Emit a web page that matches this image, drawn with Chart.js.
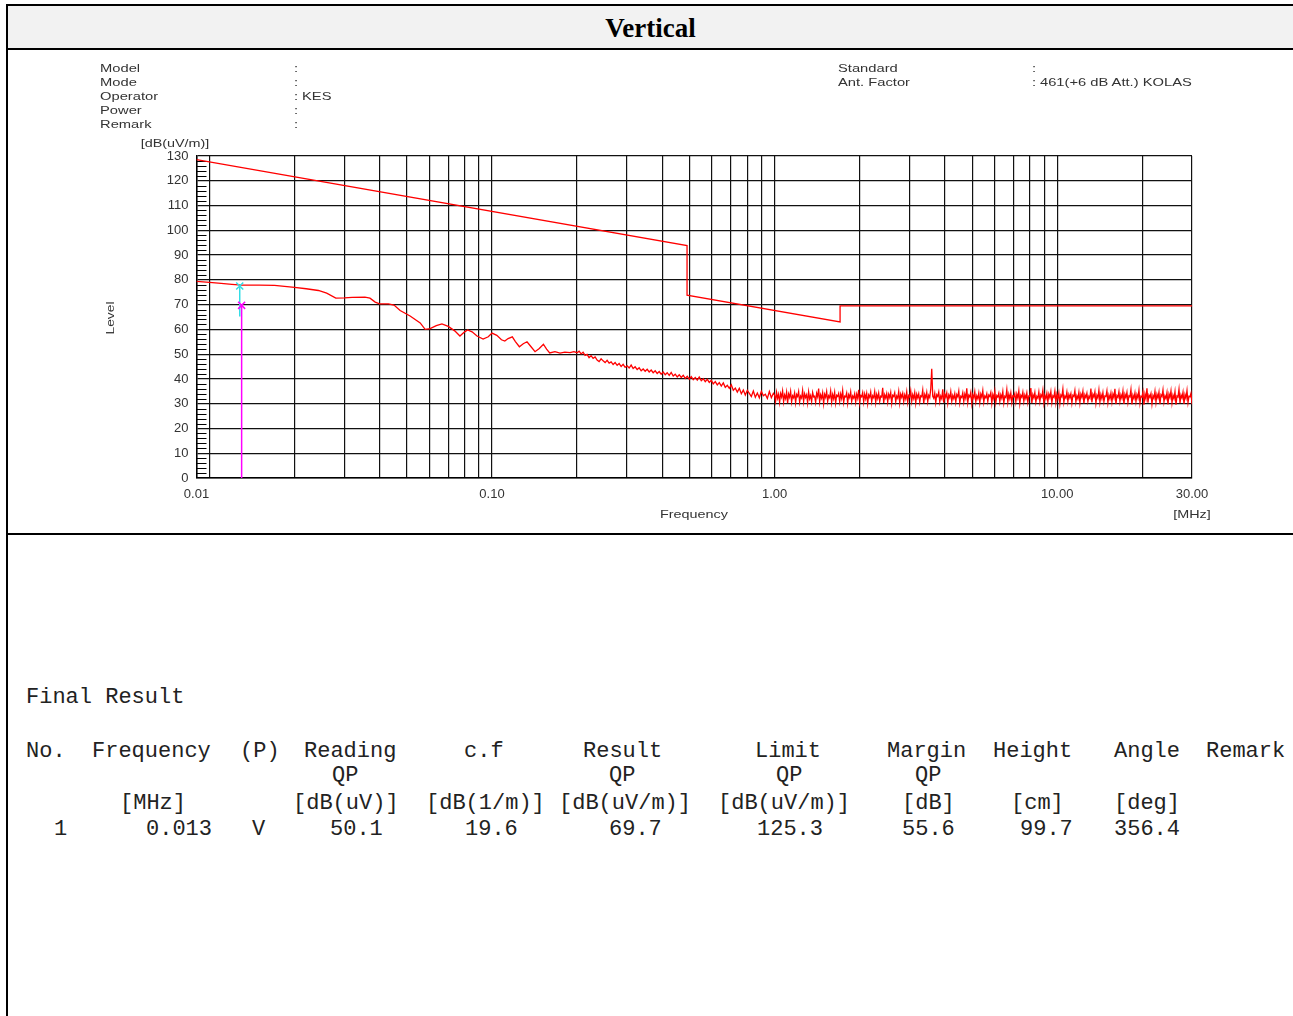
<!DOCTYPE html>
<html>
<head>
<meta charset="utf-8">
<script src="https://cdn.jsdelivr.net/npm/chart.js@4.4.1/dist/chart.umd.min.js"></script>
<style>
  body { margin: 0; background: #fff; width: 1293px; height: 1016px; position: relative; overflow: hidden; }
  .line { position: absolute; background: #000; }
  .head { position: absolute; left: 8px; top: 6px; width: 1285px; height: 42px; background: #f2f2f2;
          font: bold 27px "Liberation Serif", serif; text-align: center; line-height: 44px; color: #000; }
  .t { position: absolute; font: 11.5px "Liberation Sans", Arial, sans-serif; color: #333; line-height: 14px;
       white-space: nowrap; transform: scaleX(1.28); transform-origin: left center; z-index: 2; }
  .c { position: absolute; width: 200px; text-align: center; font: 11.5px "Liberation Sans", Arial, sans-serif;
       color: #333; line-height: 14px; white-space: nowrap; transform: scaleX(1.25); z-index: 2; }
  .m { position: absolute; font: 22px "Liberation Mono", monospace; color: #222; line-height: 24px; white-space: pre; }
  #c { position: absolute; left: 8px; top: 50px; }
</style>
</head>
<body>
<div class="head">Vertical</div>
<div class="line" style="left:7px;top:4px;width:1286px;height:2px"></div>
<div class="line" style="left:6px;top:4px;width:2px;height:1012px"></div>
<div class="line" style="left:7px;top:48px;width:1286px;height:2px"></div>
<div class="line" style="left:7px;top:533px;width:1286px;height:2px"></div>

<canvas id="c" width="1285" height="483"></canvas>
<div id="labels"></div>
<div id="result"></div>

<script>
// measured trace, smooth part (MHz / dBuV/m)
const sweepLowFreq = [0.009, 0.01, 0.011, 0.012, 0.013, 0.015, 0.017, 0.02, 0.022, 0.0243, 0.026, 0.028, 0.03, 0.032,
  0.0355, 0.037, 0.0386, 0.04, 0.043, 0.045, 0.0473, 0.0513, 0.0557, 0.058, 0.0604, 0.0635, 0.0665, 0.07, 0.0738,
  0.077, 0.08, 0.082, 0.085, 0.0885, 0.093, 0.097, 0.1, 0.104, 0.108, 0.111, 0.114, 0.118, 0.121, 0.125, 0.129,
  0.133, 0.137, 0.142, 0.147, 0.152, 0.156, 0.16, 0.167, 0.174, 0.181, 0.189, 0.195];
const sweepLowLevel = [79.4, 79.0, 78.6, 78.2, 77.9, 77.9, 77.8, 77.0, 76.4, 75.7, 74.6, 72.6, 72.7, 72.9,
  73.0, 72.6, 71.0, 70.3, 70.3, 69.8, 67.6, 65.4, 62.6, 60.0, 60.3, 61.5, 62.2, 61.2, 59.4,
  57.3, 59.0, 59.8, 59.0, 57.3, 56.1, 57.0, 58.5, 57.6, 55.8, 55.3, 56.3, 57.0, 55.1, 53.0, 54.2,
  55.0, 53.2, 51.0, 52.3, 54.0, 52.0, 50.5, 51.0, 50.4, 50.8, 50.6, 51.0];

// 0.2 - 1 MHz sweep
const sweepMidStart = 0.2;
const sweepMidStop = 0.99;
const sweepMidLevel = [50.6, 51.2, 50.1, 50.8, 49.5, 49.9, 48.6, 49.4, 48.3, 48.9, 47.6, 47.0, 48.1, 47.3, 46.6,
  47.5, 46.4, 46.9, 45.8, 46.6, 45.5, 46.2, 45.0, 45.9, 44.7, 45.3, 44.4, 45.6, 44.2, 44.9, 43.8, 44.5, 43.3,
  44.0, 43.1, 43.9, 42.8, 43.6, 42.5, 43.3, 42.2, 43.0, 41.9, 42.8, 41.7, 42.5, 41.4, 42.6, 41.2, 41.9, 40.8,
  41.7, 40.6, 41.5, 40.2, 41.1, 39.9, 40.9, 39.7, 40.6, 39.5, 40.8, 39.3, 40.1, 38.9, 39.8, 38.6, 39.4, 38.0,
  38.9, 37.6, 38.5, 37.1, 38.4, 36.6, 37.4, 36.2, 37.6, 35.4, 36.3, 34.7, 36.2, 34.0, 35.5, 33.5, 35.4, 34.2,
  32.9, 35.1, 32.6, 34.3, 32.4, 35.0, 33.2, 33.8, 32.1, 34.9, 32.4, 34.2];

// 1 - 30 MHz sweep
const sweepHighStart = 1.0;
const sweepHighStop = 30;
const sweepHighLevel = [
  33.4, 30.9, 34.6, 32.2, 33.8, 30.5, 34.1, 32.7, 35.2, 30.8, 33.5, 32.1, 34.7, 30.2, 33.9, 32.6, 35.0, 30.7, 33.2, 32.4,
  34.3, 30.4, 33.7, 32.9, 34.9, 30.6, 33.1, 32.3, 35.4, 30.9, 34.0, 32.5, 33.6, 30.3, 34.8, 32.0, 33.3, 30.8, 34.5, 32.7,
  33.0, 30.5, 34.2, 32.8, 36.1, 30.7, 33.6, 32.2, 34.4, 30.1, 33.8, 32.6, 34.9, 30.9, 33.2, 32.4, 35.1, 30.6, 33.7, 32.0,
  34.6, 30.3, 33.4, 32.9, 34.1, 30.8, 33.9, 32.1, 35.3, 30.5, 33.0, 32.7, 34.3, 30.2, 33.6, 32.5, 34.8, 30.9, 33.1, 32.3,
  34.0, 30.6, 33.8, 32.2, 35.6, 30.4, 33.3, 32.8, 34.5, 30.7, 33.9, 32.0, 34.2, 30.1, 33.5, 32.6, 34.7, 30.8, 33.2, 32.4,
  34.9, 30.5, 33.7, 32.1, 34.3, 30.9, 33.0, 32.7, 36.4, 30.3, 33.6, 32.3, 34.1, 30.6, 33.8, 32.5, 34.6, 30.2, 33.4, 32.9,
  34.4, 30.7, 33.1, 32.2, 35.0, 30.4, 33.9, 32.6, 34.2, 30.8, 33.5, 32.0, 34.8, 30.5, 33.3, 32.7, 35.2, 30.9, 33.6, 32.1,
  34.5, 30.3, 33.8, 32.4, 34.0, 30.6, 33.2, 32.8, 35.5, 30.1, 33.7, 32.3, 34.6, 30.8, 33.4, 32.5, 36.0, 44.1, 33.0, 32.2,
  34.2, 30.5, 33.6, 32.9, 34.7, 30.7, 33.1, 32.0, 35.8, 30.4, 33.9, 32.6, 34.3, 30.2, 33.5, 32.4, 34.9, 30.9, 33.3, 32.1,
  34.1, 30.6, 33.7, 32.8, 35.1, 30.3, 33.0, 32.5, 34.4, 30.8, 33.8, 32.2, 36.2, 30.5, 33.4, 32.7, 34.6, 30.1, 33.6, 32.3,
  34.8, 30.7, 33.2, 32.0, 34.3, 30.4, 33.9, 32.6, 35.3, 30.6, 33.1, 32.4, 34.0, 30.9, 33.5, 32.9, 34.5, 30.2, 33.7, 32.1,
  35.0, 30.5, 33.3, 32.7, 34.2, 30.8, 33.6, 32.2, 34.9, 30.3, 33.0, 32.5, 35.7, 30.6, 33.8, 32.0, 34.4, 30.4, 33.2, 32.8,
  34.1, 30.7, 33.9, 32.3, 35.2, 30.1, 33.4, 32.6, 34.7, 30.9, 33.5, 32.1, 34.3, 30.5, 33.1, 32.9, 36.3, 30.2, 33.7, 32.4,
  34.6, 30.6, 33.0, 32.2, 34.8, 30.8, 33.6, 32.7, 35.4, 30.3, 33.3, 32.0, 34.2, 30.7, 33.9, 32.5, 34.9, 30.4, 33.2, 32.6,
  35.1, 30.5, 33.8, 32.1, 34.4, 30.0, 33.5, 32.8, 35.9, 30.6, 33.1, 32.3, 34.7, 30.8, 33.7, 32.4, 34.0, 30.3, 33.4, 32.9,
  35.3, 30.7, 33.2, 32.0, 34.6, 30.4, 33.9, 32.6, 35.0, 30.1, 33.6, 32.5, 34.2, 30.9, 33.0, 32.2, 36.1, 30.5, 33.8, 32.7,
  34.8, 30.2, 33.4, 32.3, 35.5, 30.6, 33.7, 32.1, 34.5, 30.8, 33.1, 32.9, 35.2, 30.4, 33.5, 32.0, 34.3, 30.7, 33.9, 32.4,
  36.0, 29.8, 33.3, 32.6, 34.9, 30.9, 33.6, 32.2, 35.1, 29.9, 33.8, 32.5, 34.6, 30.5, 33.2, 32.8, 35.7, 29.7, 33.4, 32.1,
  34.4, 30.8, 33.7, 32.3, 35.4, 30.2, 33.0, 32.7, 34.8, 29.6, 33.9, 32.0, 36.2, 30.4, 33.5, 32.6, 34.1, 29.9, 33.3, 32.2,
  35.0, 30.5, 33.8, 32.4, 34.7, 29.8, 33.6, 32.9, 35.6, 30.7, 33.2, 32.1, 34.5, 29.7, 33.9, 32.5, 35.2, 30.3, 33.4, 32.0,
  34.9, 29.6, 33.1, 32.7, 35.8, 30.2, 33.5, 32.3, 34.6, 29.9, 33.7, 32.2, 35.3, 30.4, 33.0, 32.8, 34.2, 29.8];

// limit line
const limitFreq = [0.009, 0.49, 0.49, 1.705, 1.705, 30];
const limitLevel = [128.5, 93.8, 73.8, 63.0, 69.5, 69.5];

// markers
const peakFreq = 0.0128;
const peakLevel = [77.5, 65.2];
const qpFreq = 0.013;
const qpLevel = [69.7, 0];

// axes
const xGridValues = [0.009, 0.01, 0.02, 0.03, 0.04, 0.05, 0.06, 0.07, 0.08, 0.09,
  0.1, 0.2, 0.3, 0.4, 0.5, 0.6, 0.7, 0.8, 0.9, 1, 2, 3, 4, 5, 6, 7, 8, 9, 10, 20, 30];
const xTickValues = [0.009, 0.1, 1, 10, 30];
const xTickLabels = ['0.01', '0.10', '1.00', '10.00', '30.00'];

// header texts
const infoLeft = ['Model', 'Mode', 'Operator', 'Power', 'Remark'];
const infoLeftValue = ['', '', 'KES', '', ''];
const infoRight = ['Standard', 'Ant. Factor'];
const infoRightValue = ['', '461(+6 dB Att.) KOLAS'];

// final result table
const resultHead = [['No.', 26], ['Frequency', 92], ['(P)', 240], ['Reading', 304], ['c.f', 464], ['Result', 583],
  ['Limit', 755], ['Margin', 887], ['Height', 993], ['Angle', 1114], ['Remark', 1206]];
const resultSub = [['QP', 332], ['QP', 609], ['QP', 776], ['QP', 915]];
const resultUnits = [['[MHz]', 120], ['[dB(uV)]', 293], ['[dB(1/m)]', 426], ['[dB(uV/m)]', 559], ['[dB(uV/m)]', 718],
  ['[dB]', 902], ['[cm]', 1011], ['[deg]', 1114]];
const resultRow = [['1', 54], ['0.013', 146], ['V', 252], ['50.1', 330], ['19.6', 465], ['69.7', 609],
  ['125.3', 757], ['55.6', 902], ['99.7', 1020], ['356.4', 1114]];

function sweep(start, stop, levels) {
  return levels.map((v, i) => ({ x: start * Math.pow(stop / start, i / (levels.length - 1)), y: v }));
}

const traceData = sweepLowFreq.map((f, i) => ({ x: f, y: sweepLowLevel[i] }))
  .concat(sweep(sweepMidStart, sweepMidStop, sweepMidLevel))
  .concat(sweep(sweepHighStart, sweepHighStop, sweepHighLevel));
const limitData = limitFreq.map((f, i) => ({ x: f, y: limitLevel[i] }));

// little 2 dB ticks inside the left edge
const minorTicks = {
  id: 'minorTicks',
  beforeDatasetsDraw(chart) {
    const { ctx, chartArea, scales } = chart;
    ctx.save();
    ctx.strokeStyle = '#000';
    ctx.lineWidth = 1;
    for (let v = 0; v <= 130; v += 2) {
      if (v % 10 === 0) continue;
      const y = Math.round(scales.y.getPixelForValue(v)) + 0.5;
      ctx.beginPath();
      ctx.moveTo(chartArea.left, y);
      ctx.lineTo(chartArea.left + 10, y);
      ctx.stroke();
    }
    ctx.restore();
  }
};

const tickFont = { family: 'Liberation Sans', size: 13 };

new Chart(document.getElementById('c'), {
  type: 'scatter',
  data: {
    datasets: [
      { data: qpLevel.map(v => ({ x: qpFreq, y: v })), showLine: true, borderColor: '#ff00ff', backgroundColor: '#ff00ff',
        borderWidth: 1.5, pointStyle: 'crossRot', pointRadius: [5, 0], pointBorderWidth: 1.5 },
      { data: peakLevel.map(v => ({ x: peakFreq, y: v })), showLine: true, borderColor: '#33dde6', backgroundColor: '#33dde6',
        borderWidth: 1.5, pointStyle: 'crossRot', pointRadius: [5, 0], pointBorderWidth: 1.5 },
      { data: limitData, showLine: true, borderColor: '#ff0000', borderWidth: 1.3, pointRadius: 0 },
      { data: traceData, showLine: true, borderColor: '#ff0000', borderWidth: 1.3, pointRadius: 0 }
    ]
  },
  options: {
    responsive: false,
    animation: false,
    layout: { padding: { left: 148.5, right: 101, top: 106, bottom: 0 } },
    plugins: { legend: { display: false }, tooltip: { enabled: false } },
    scales: {
      x: {
        type: 'logarithmic', min: 0.009, max: 30,
        afterBuildTicks: s => { s.ticks = xGridValues.map(v => ({ value: v })); },
        afterFit: s => { s.height = 55; },
        ticks: {
          autoSkip: false, maxRotation: 0, padding: 9, color: '#333', font: tickFont,
          callback: v => { const i = xTickValues.indexOf(v); return i >= 0 ? xTickLabels[i] : ''; }
        },
        grid: { color: '#111', lineWidth: 1.2, drawTicks: false },
        border: { color: '#000', width: 1.5 }
      },
      y: {
        min: 0, max: 130,
        afterFit: s => { s.width = 40; },
        ticks: { stepSize: 10, padding: 8, color: '#333', font: tickFont },
        grid: { color: '#111', lineWidth: 1.2, drawTicks: false },
        border: { color: '#000', width: 1.5 }
      }
    }
  },
  plugins: [minorTicks]
});

// texts around the chart
const labels = document.getElementById('labels');
function put(cls, text, left, cy, extra) {
  const d = document.createElement('div');
  d.className = cls;
  d.textContent = text;
  d.style.left = left + 'px';
  d.style.top = (cy - 7) + 'px';
  if (extra) d.style.cssText += extra;
  labels.appendChild(d);
}
infoLeft.forEach((t, i) => {
  put('t', t, 100, 68 + i * 14);
  put('t', ':', 294, 68 + i * 14);
  if (infoLeftValue[i]) put('t', infoLeftValue[i], 302, 68 + i * 14);
});
infoRight.forEach((t, i) => {
  put('t', t, 838, 68 + i * 14);
  put('t', ':', 1032, 68 + i * 14);
  if (infoRightValue[i]) put('t', infoRightValue[i], 1040, 68 + i * 14);
});
put('c', '[dB(uV/m)]', 75, 143);
put('c', 'Level', 10, 318, 'transform: rotate(-90deg) scaleX(1.2);');
put('c', 'Frequency', 594, 514);
put('c', '[MHz]', 1092, 514);

const result = document.getElementById('result');
function cell(text, left, cy) {
  const d = document.createElement('div');
  d.className = 'm';
  d.textContent = text;
  d.style.left = left + 'px';
  d.style.top = (cy - 12) + 'px';
  result.appendChild(d);
}
cell('Final Result', 26, 698);
resultHead.forEach(([t, x]) => cell(t, x, 752));
resultSub.forEach(([t, x]) => cell(t, x, 776));
resultUnits.forEach(([t, x]) => cell(t, x, 804));
resultRow.forEach(([t, x]) => cell(t, x, 830));
</script>
</body>
</html>
